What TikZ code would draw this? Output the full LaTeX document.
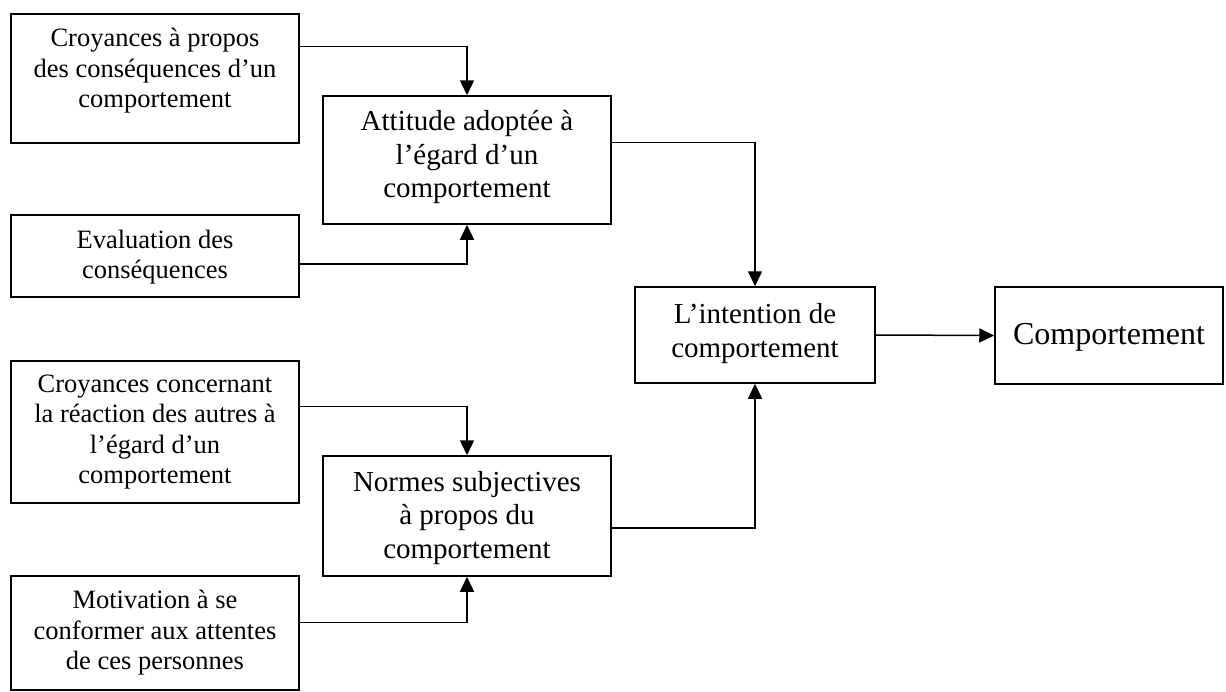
\documentclass[tikz,border=0pt]{standalone}
\usepackage{fontspec}
\setmainfont{Liberation Serif}
\usetikzlibrary{arrows.meta}
\begin{document}
\begin{tikzpicture}[x=1pt,y=-1pt,
  box/.style={draw, line width=1.5pt, inner sep=0pt},
  small/.style={align=center, inner sep=0pt, font=\fontsize{26.5}{30.5}\selectfont},
  medium/.style={align=center, inner sep=0pt, font=\fontsize{29}{33.5}\selectfont},
  large/.style={align=center, inner sep=0pt, font=\fontsize{32}{36}\selectfont},
  arr/.style={line width=1.5pt, -{Triangle[length=15pt,width=14pt]}}]
\useasboundingbox (0,0) rectangle (1226,691);
% boxes
\node[box, minimum width=288, minimum height=129] (b1) at (155,78.5) {};
\node[box, minimum width=288, minimum height=128] (b2) at (467,160) {};
\node[box, minimum width=288, minimum height=82]  (b3) at (155,256) {};
\node[box, minimum width=240, minimum height=96]  (b4) at (755,335) {};
\node[box, minimum width=228, minimum height=97]  (b5) at (1109,335.5) {};
\node[box, minimum width=288, minimum height=142] (b6) at (155,432) {};
\node[box, minimum width=288, minimum height=120] (b7) at (467,516) {};
\node[box, minimum width=288, minimum height=114] (b8) at (155,633) {};
% texts
\node[small]  (t1) at (155,71)    {Croyances à propos\\des conséquences d’un\\comportement};
\node[medium] (t2) at (467,157.5) {Attitude adoptée à\\l’égard d’un\\comportement};
\node[small]  (t3) at (155,257)   {Evaluation des\\conséquences};
\node[medium] (t4) at (755,333.5) {L’intention de\\comportement};
\node[large]  (t5) at (1109,337)  {Comportement};
\node[small]  (t6) at (155,432)   {Croyances concernant\\la réaction des autres à\\l’égard d’un\\comportement};
\node[medium] (t7) at (467,518)   {Normes subjectives\\à propos du\\comportement};
\node[small]  (t8) at (155,633)   {Motivation à se\\conformer aux attentes\\de ces personnes};
% connectors
\draw[arr] ([yshift=-33pt]b1.north east) -| (b2.north);
\draw[arr] ([yshift=34pt]b3.south east) -| (b2.south);
\draw[arr] ([yshift=-47pt]b2.north east) -| (b4.north);
\draw[arr] ([yshift=-46pt]b6.north east) -| (b7.north);
\draw[arr] ([yshift=-47pt]b8.north east) -| (b7.south);
\draw[arr] ([yshift=49pt]b7.south east) -| (b4.south);
\draw[arr] (b4.east) -- (b5.west);
\end{tikzpicture}
\end{document}
